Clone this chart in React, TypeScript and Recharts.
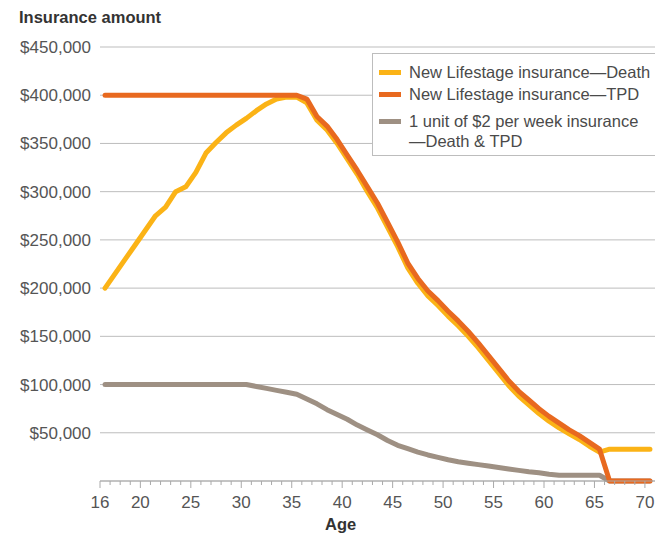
import { LineChart, Line, XAxis, YAxis, CartesianGrid, Legend } from "recharts"

const FONT = '"Liberation Sans", Arial, Helvetica, sans-serif'

const ages = [
  16, 17, 18, 19, 20, 21, 22, 23, 24, 25, 26, 27, 28, 29, 30, 31, 32, 33, 34, 35,
  36, 37, 38, 39, 40, 41, 42, 43, 44, 45, 46, 47, 48, 49, 50, 51, 52, 53, 54, 55,
  56, 57, 58, 59, 60, 61, 62, 63, 64, 65, 66, 67, 68, 69, 70,
]

const deathCover = [
  200000, 215000, 230000, 245000, 260000, 275000, 284000, 300000, 305000, 320000,
  340000, 351000, 361000, 369000, 376000, 384000, 391000, 396000, 398000, 398000,
  392000, 374000, 364000, 350000, 334000, 318000, 300000, 283000, 263000, 243000,
  221000, 205000, 192000, 182000, 171000, 161000, 150000, 138000, 125000, 112000,
  99000, 88000, 79000, 70000, 62000, 55000, 49000, 43000, 36000, 30000,
  33000, 33000, 33000, 33000, 33000,
]

const tpdCover = [
  400000, 400000, 400000, 400000, 400000, 400000, 400000, 400000, 400000, 400000,
  400000, 400000, 400000, 400000, 400000, 400000, 400000, 400000, 400000, 400000,
  396000, 378000, 368000, 354000, 338000, 322000, 305000, 288000, 268000, 248000,
  226000, 210000, 197000, 187000, 176000, 166000, 155000, 143000, 130000, 117000,
  104000, 93000, 84000, 75000, 67000, 60000, 53000, 47000, 40000, 33000,
  0, 0, 0, 0, 0,
]

const unitCover = [
  100000, 100000, 100000, 100000, 100000, 100000, 100000, 100000, 100000, 100000,
  100000, 100000, 100000, 100000, 100000, 98000, 96000, 94000, 92000, 90000,
  85000, 80000, 74000, 69000, 64000, 58000, 53000, 48000, 42000, 37000,
  33500, 30000, 27000, 24500, 22000, 20000, 18500, 17000, 15500, 14000,
  12500, 11000, 9500, 8500, 7000, 6000, 6000, 6000, 6000, 6000,
  0, 0, 0, 0, 0,
]

const yTicks = [0, 50000, 100000, 150000, 200000, 250000, 300000, 350000, 400000, 450000]
const ageLabels = [16, 20, 25, 30, 35, 40, 45, 50, 55, 60, 65, 70]

const series = [
  { key: "death", lines: ["New Lifestage insurance\u2014Death"], color: "#FBB316" },
  { key: "tpd", lines: ["New Lifestage insurance\u2014TPD"], color: "#E8691F" },
  { key: "unit", lines: ["1 unit of $2 per week insurance", "\u2014Death & TPD"], color: "#9E9083" },
]

const data = ages.map((age, i) => ({
  age,
  death: deathCover[i],
  tpd: tpdCover[i],
  unit: unitCover[i],
}))

// each age sits in the middle of its one-year band; ticks mark the band edges
const bandEdges = ages.map((a) => a - 0.5)

const AgeTick = ({ x, y, payload }: { x: number; y: number; payload: { value: number } }) => {
  const label = payload.value + 0.5
  const major = ageLabels.includes(label)
  return (
    <g>
      <line x1={x} x2={x} y1={y} y2={y + (major ? 7 : 4)} stroke="#aaa" />
      {major && (
        <text x={x} y={y + 27} textAnchor="middle" fill="#555" fontSize={17} fontFamily={FONT}>
          {label}
        </text>
      )}
    </g>
  )
}

const rowTops = [[8], [30], [57, 77]]

const LegendBox = () => (
  <div
    style={{
      position: "relative",
      width: 300,
      height: 103,
      boxSizing: "border-box",
      border: "1px solid #bdbdbd",
      background: "#fff",
      fontFamily: FONT,
      fontSize: 16.5,
      color: "#4a4a4a",
      lineHeight: "20px",
    }}
  >
    {series.map((s, i) => (
      <div key={s.key}>
        <div
          style={{
            position: "absolute",
            left: 6,
            top: rowTops[i][0] + 8,
            width: 22,
            height: 5,
            background: s.color,
          }}
        />
        {s.lines.map((t, j) => (
          <div key={j} style={{ position: "absolute", left: 36, top: rowTops[i][j], whiteSpace: "nowrap" }}>
            {t}
          </div>
        ))}
      </div>
    ))}
  </div>
)

const money = (v: number) => (v === 0 ? "" : "$" + v.toLocaleString("en-US"))

export default function App() {
  return (
    <div
      style={{
        position: "absolute",
        left: 0,
        top: 0,
        width: 655,
        height: 534,
        overflow: "hidden",
        background: "#fff",
      }}
    >
      <div
        style={{
          position: "absolute",
          left: 19,
          top: 9,
          fontFamily: FONT,
          fontWeight: "bold",
          fontSize: 16.5,
          lineHeight: "16.5px",
          color: "#333",
          whiteSpace: "nowrap",
        }}
      >
        Insurance amount
      </div>
      <LineChart width={655} height={534} data={data} margin={{ top: 47, right: 0, bottom: 0, left: 0 }}>
        <CartesianGrid vertical={false} stroke="#bdbdbd" />
        <XAxis
          type="number"
          dataKey="age"
          domain={[15.5, 70.5]}
          ticks={bandEdges}
          interval={0}
          tickSize={0}
          tickMargin={0}
          tickLine={false}
          tick={(p: any) => <AgeTick {...p} />}
          axisLine={{ stroke: "#aaa" }}
          height={53}
        />
        <YAxis
          type="number"
          domain={[0, 450000]}
          ticks={yTicks}
          interval={0}
          width={100}
          axisLine={false}
          tickLine={false}
          tickMargin={3}
          tickFormatter={money}
          tick={{ fill: "#555", fontSize: 17, fontFamily: FONT }}
        />
        <Legend
          layout="vertical"
          align="center"
          verticalAlign="middle"
          wrapperStyle={{ left: 372, top: 53, width: 300 }}
          content={() => <LegendBox />}
        />
        <Line
          dataKey="unit"
          type="linear"
          stroke={series[2].color}
          strokeWidth={5}
          strokeLinecap="round"
          strokeLinejoin="round"
          dot={false}
          isAnimationActive={false}
        />
        <Line
          dataKey="death"
          type="linear"
          stroke={series[0].color}
          strokeWidth={5}
          strokeLinecap="round"
          strokeLinejoin="round"
          dot={false}
          isAnimationActive={false}
        />
        <Line
          dataKey="tpd"
          type="linear"
          stroke={series[1].color}
          strokeWidth={5}
          strokeLinecap="round"
          strokeLinejoin="round"
          dot={false}
          isAnimationActive={false}
        />
      </LineChart>
      <div
        style={{
          position: "absolute",
          left: 325,
          top: 516,
          fontFamily: FONT,
          fontWeight: "bold",
          fontSize: 16.5,
          lineHeight: "16.5px",
          color: "#333",
        }}
      >
        Age
      </div>
    </div>
  )
}
